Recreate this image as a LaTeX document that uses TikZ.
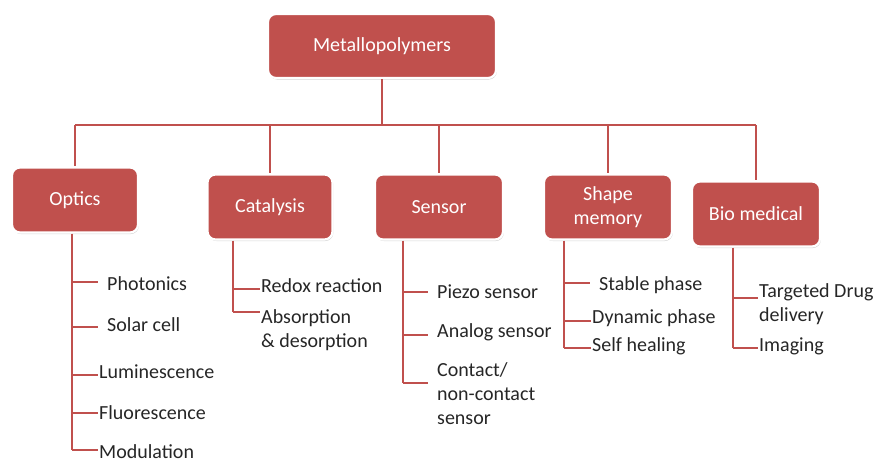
\documentclass[tikz,border=0pt]{standalone}
\usepackage{fontspec}
\setmainfont{Carlito}
\usetikzlibrary{shadows}
\definecolor{boxred}{HTML}{C0504D}
\tikzset{
  catbox/.style={fill=boxred, draw=white, line width=2.2pt, rounded corners=8pt,
    text=white, align=center, font=\fontsize{20}{24}\selectfont,
    drop shadow={opacity=0.35, shadow xshift=0.8pt, shadow yshift=-1.5pt}},
  conn/.style={draw=boxred, line width=1.8pt},
  leaf/.style={anchor=west, inner xsep=1pt, inner ysep=0pt, align=left,
    text=black!85, font=\fontsize{20}{24}\selectfont},
}
\begin{document}
\begin{tikzpicture}[x=1pt,y=-1pt]
\useasboundingbox (0,0) rectangle (878,460);
% category boxes
\node[catbox, minimum width=228pt, minimum height=64pt] (top) at (382,46) {Metallopolymers};
\node[catbox, minimum width=126pt, minimum height=65pt] (optics) at (75,200) {Optics};
\node[catbox, minimum width=125pt, minimum height=65pt] (cat) at (270,207) {Catalysis};
\node[catbox, minimum width=128pt, minimum height=65pt] (sens) at (439,207) {Sensor};
\node[catbox, minimum width=128pt, minimum height=65pt] (shape) at (608,207) {Shape\\memory};
\node[catbox, minimum width=128pt, minimum height=65pt] (bio) at (756,214) {Bio medical};
% trunk
\coordinate (bar) at (0,125);
\draw[conn] (top.south) -- (top.south |- bar);
\draw[conn] (optics.north |- bar) -- (bio.north |- bar);
\foreach \n in {optics,cat,sens,shape,bio} \draw[conn] (\n.north |- bar) -- (\n.north);
% leaves: optics
\node[leaf, inner xsep=9pt] (o1) at (98,284) {Photonics};
\node[leaf, inner xsep=9pt] (o2) at (98,325) {Solar cell};
\node[leaf] (o3) at (98,372) {Luminescence};
\node[leaf] (o4) at (98,413) {Fluorescence};
\node[leaf] (o5) at (98,452) {Modulation};
\coordinate (ov) at (72,0);
\draw[conn] (optics.south -| ov) -- (ov |- 0,450);
\draw[conn] (ov |- 0,282) -- (o1.west |- 0,282);
\draw[conn] (ov |- 0,327) -- (o2.west |- 0,327);
\draw[conn] (ov |- 0,375) -- (o3.west |- 0,375);
\draw[conn] (ov |- 0,413) -- (o4.west |- 0,413);
\draw[conn] (ov |- 0,450) -- (o5.west |- 0,450);
% catalysis
\node[leaf] (c1) at (260,286) {Redox reaction};
\node[leaf, anchor=north west] (c2) at (260,309) {Absorption\\\& desorption};
\coordinate (cv) at (233,0);
\draw[conn] (cat.south -| cv) -- (cv |- 0,312);
\draw[conn] (cv |- 0,289) -- (c1.west |- 0,289);
\draw[conn] (cv |- 0,312) -- (c2.west |- 0,312);
% sensor
\node[leaf, inner xsep=9pt] (s1) at (428,292) {Piezo sensor};
\node[leaf, inner xsep=9pt] (s2) at (428,332) {Analog sensor};
\node[leaf, inner xsep=9pt, anchor=north west] (s3) at (428,362) {Contact/\\non-contact\\sensor};
\coordinate (sv) at (403,0);
\draw[conn] (sens.south -| sv) -- (sv |- 0,383);
\draw[conn] (sv |- 0,292) -- (s1.west |- 0,292);
\draw[conn] (sv |- 0,335) -- (s2.west |- 0,335);
\draw[conn] (sv |- 0,383) -- (s3.west |- 0,383);
% shape memory
\node[leaf, inner xsep=9pt] (m1) at (590,285) {Stable phase};
\node[leaf] (m2) at (591,318) {Dynamic phase};
\node[leaf] (m3) at (591,346) {Self healing};
\coordinate (mv) at (564,0);
\draw[conn] (shape.south -| mv) -- (mv |- 0,348);
\draw[conn] (mv |- 0,283) -- (m1.west |- 0,283);
\draw[conn] (mv |- 0,321) -- (m2.west |- 0,321);
\draw[conn] (mv |- 0,348) -- (m3.west |- 0,348);
% bio medical
\node[leaf, anchor=north west] (b1) at (758,283) {Targeted Drug\\delivery};
\node[leaf] (b2) at (758,346) {Imaging};
\coordinate (bv) at (733,0);
\draw[conn] (bio.south -| bv) -- (bv |- 0,348);
\draw[conn] (bv |- 0,298) -- (b1.west |- 0,298);
\draw[conn] (bv |- 0,348) -- (b2.west |- 0,348);
\end{tikzpicture}
\end{document}
